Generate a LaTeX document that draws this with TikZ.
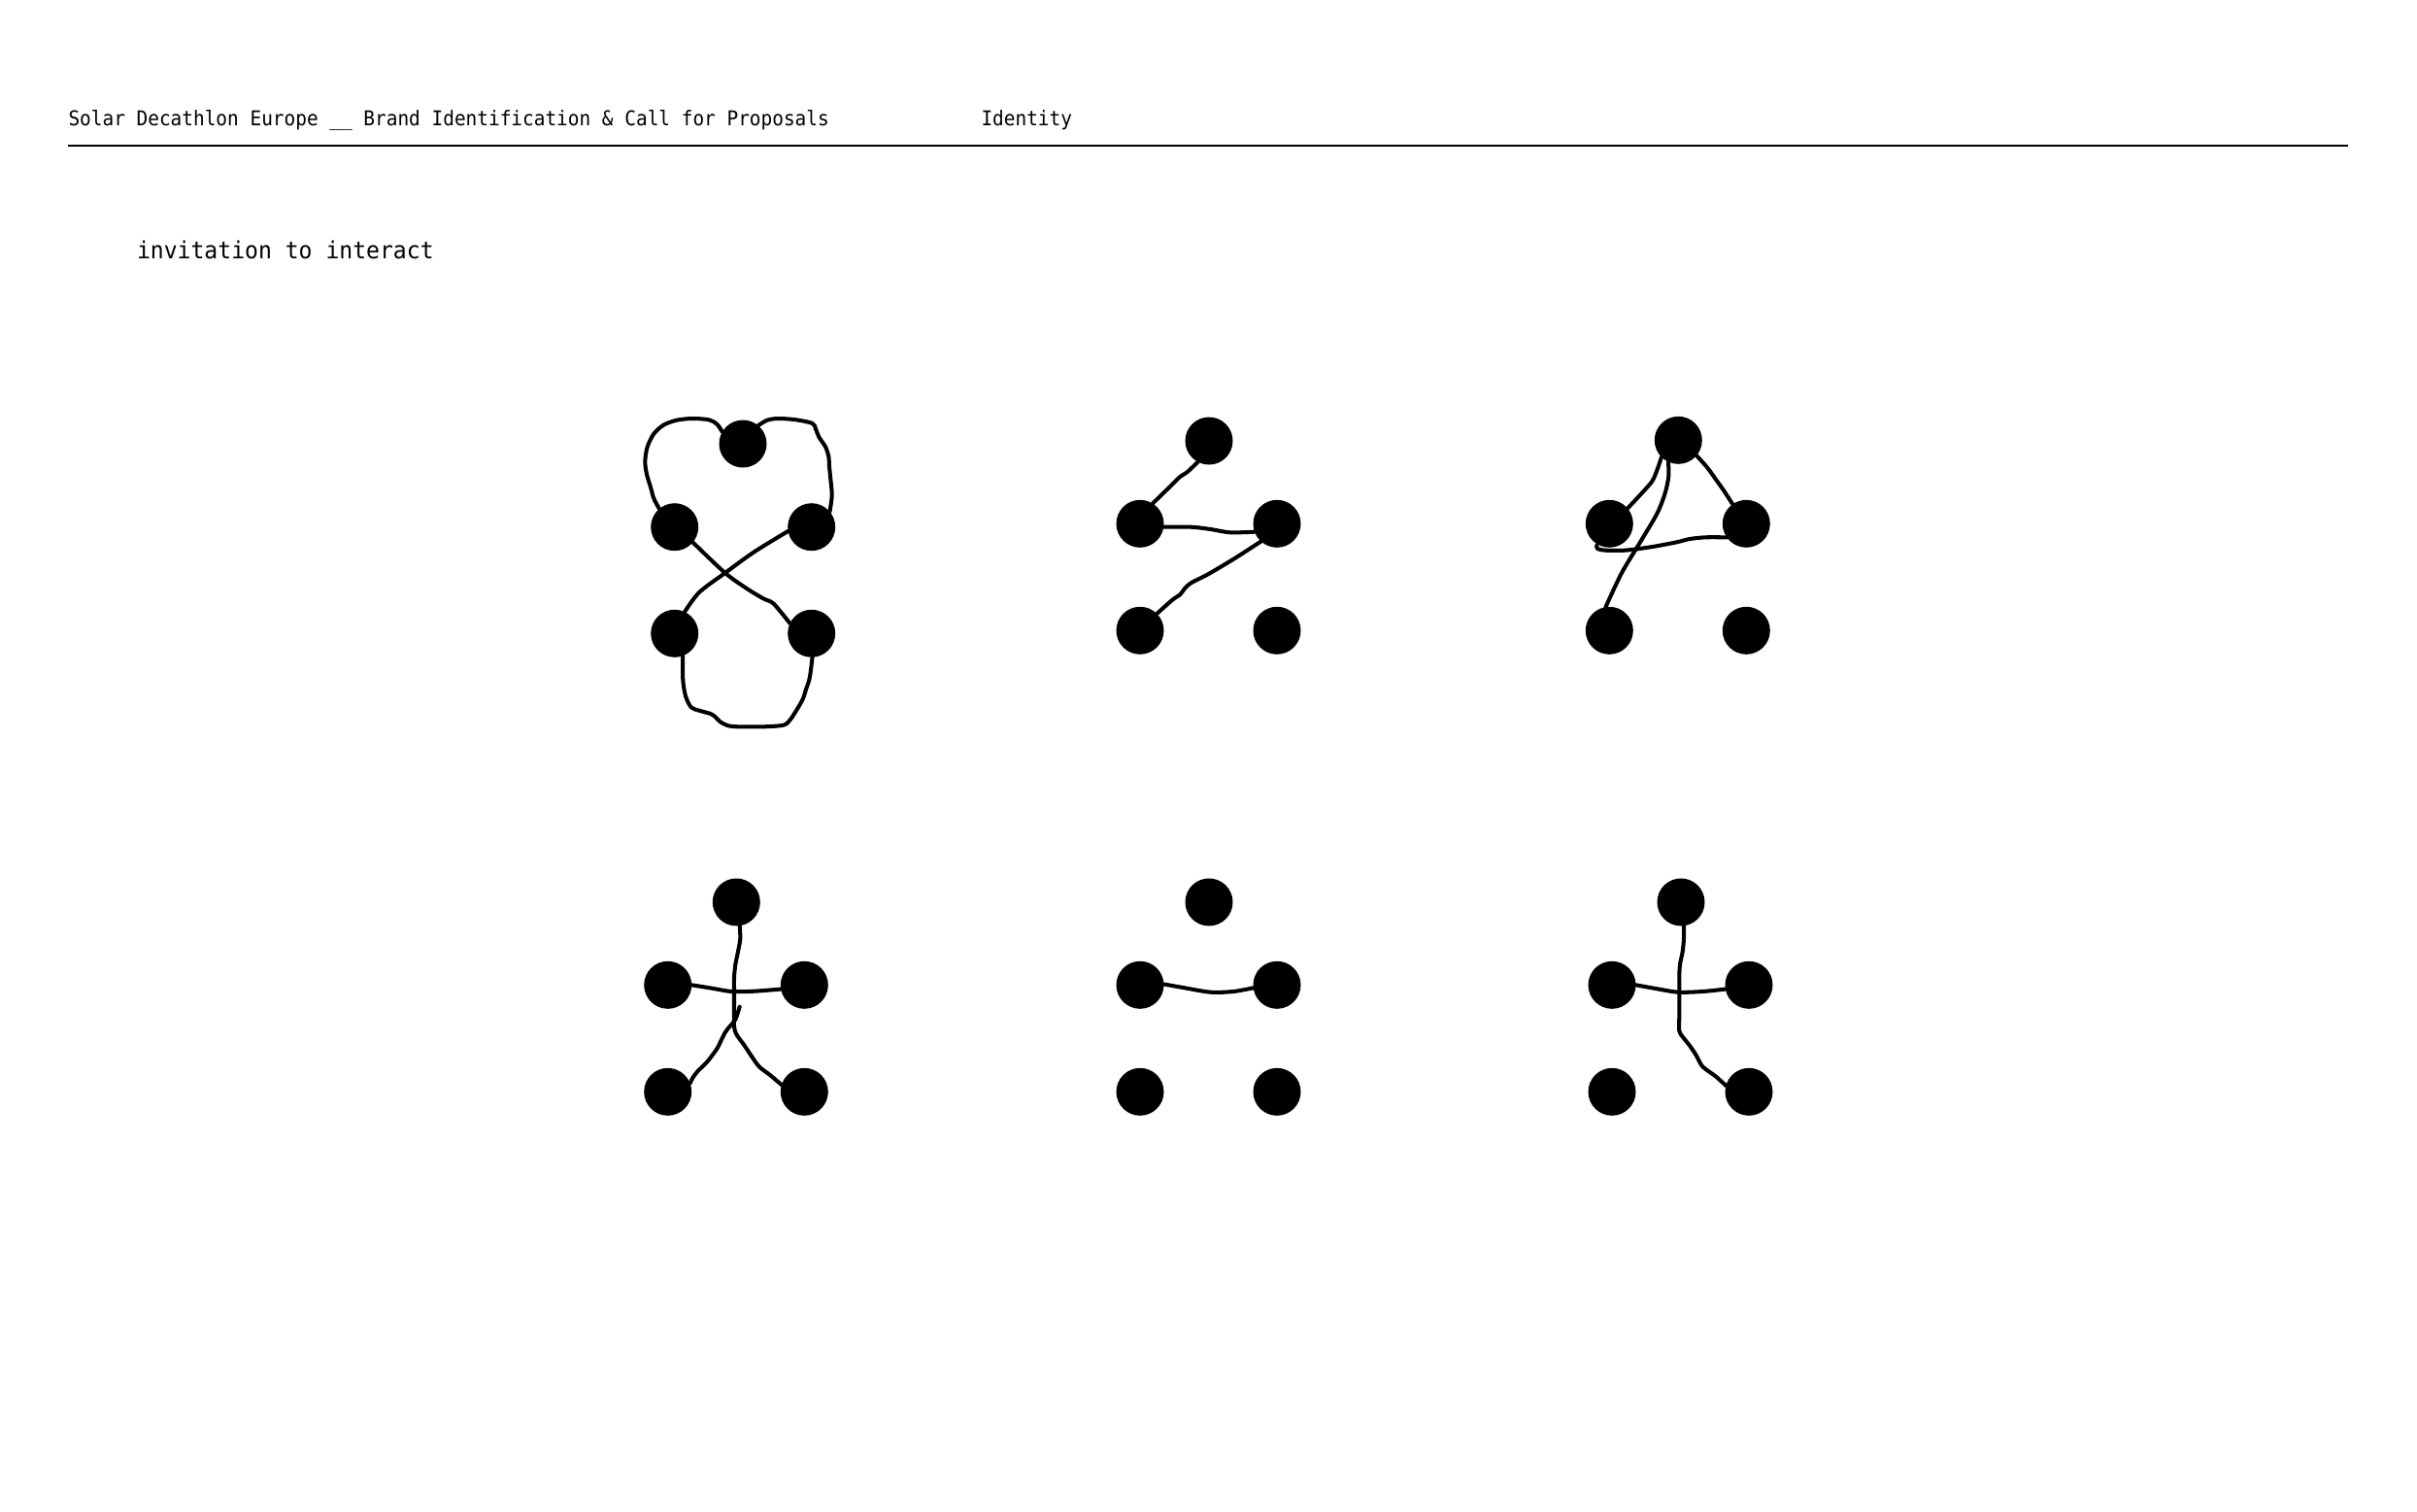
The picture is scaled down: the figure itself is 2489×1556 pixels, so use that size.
\documentclass[tikz,border=0pt]{standalone}
\usepackage{fontspec}
\newfontfamily\monofont{DejaVu Sans Mono}
\usetikzlibrary{backgrounds}
\pgfdeclarelayer{paper}
\pgfsetlayers{paper,background,main}
\tikzset{
  dot/.style={circle,fill=black,draw=none,minimum size=0.98cm,inner sep=0pt,outer sep=0pt},
  wire/.style={line width=2.3pt,line cap=round,line join=round},
  hdr/.style={anchor=base west,inner sep=0pt,outer sep=0pt,font=\monofont\fontsize{11.95pt}{14pt}\selectfont},
  ttl/.style={anchor=base west,inner sep=0pt,outer sep=0pt,font=\monofont\fontsize{13.9pt}{16pt}\selectfont}
}
\begin{document}
\begin{tikzpicture}[x=0.02cm,y=-0.02cm]
\begin{pgfonlayer}{paper}
\fill[white] (0,0) rectangle (2489,1556);
\end{pgfonlayer}
\useasboundingbox (0,0) rectangle (2489,1556);
% header
\node[hdr] (title) at (70.5,129.3) {\scalebox{0.925}[1]{Solar Decathlon Europe \_\_ Brand Identification \& Call for Proposals}};
\node[hdr] (ident) at (1010.5,129.3) {\scalebox{0.925}[1]{Identity}};
\coordinate (ruleL) at (70,150);
\coordinate (ruleR) at (2418,150);
\draw[line width=1.15pt] (ruleL) -- (ruleR);
\node[ttl] (invite) at (141,266.7) {\scalebox{0.945}[1]{invitation to interact}};
% dots
\foreach \g/\tx/\ty/\lx/\rx/\my/\by in {
  1/765/457/694.7/835.7/542.7/652.3,
  2/1245/454/1174/1315/539.3/649.3,
  3/1728.3/453.3/1657.3/1798.3/539.3/649.3,
  4/758.3/929/687.7/828.3/1014.3/1124.3,
  5/1245/929/1174/1315/1014.3/1124.3,
  6/1731/929/1660/1801/1014.3/1124.3}{
  \node[dot] (g\g t) at (\tx,\ty) {};
  \node[dot] (g\g ml) at (\lx,\my) {};
  \node[dot] (g\g mr) at (\rx,\my) {};
  \node[dot] (g\g bl) at (\lx,\by) {};
  \node[dot] (g\g br) at (\rx,\by) {};
}
\begin{scope}[on background layer]
% group 1
\draw[wire] plot[smooth,tension=0.5] coordinates {(g1ml.130) (673.3,513.3) (670,501.7) (666,488.3) (664.3,475) (666.7,460) (673.3,446.7) (683.3,437.7) (696.7,432.7) (713.3,431) (730,432.3) (738.3,436.7) (g1t.150)};
\draw[wire] plot[smooth,tension=0.5] coordinates {(g1t.50) (790,432.7) (801.7,431) (820,432.3) (836.7,436) (840,441.7) (843.3,450) (850,460) (853.3,470) (854,480) (855.3,493.3) (856.7,510) (g1mr.40)};
\draw[wire] plot[smooth,tension=0.5] coordinates {(g1ml.-40) (746.7,590) (770,606.7) (786.7,616.7) (796.7,621.7) (g1br.155)};
\draw[wire] plot[smooth,tension=0.5] coordinates {(g1mr.190) (776.7,568.3) (746.7,590) (720,610) (g1bl.65)};
\draw[wire] plot[smooth,tension=0.5] coordinates {(g1bl.-70) (703.3,700) (706,716.7) (711.7,728.3) (720,731.7) (731.7,735) (736.7,738.3) (741.7,743.3) (750,747.3) (760,748.3) (786.7,748.3) (806.7,746.7) (813.3,741.7) (820,731.7) (826.7,720) (830,710) (833.3,700) (835,690) (g1br.-88)};
% group 2
\draw[wire] plot[smooth,tension=0.5] coordinates {(g2t.-118) (1223.3,485.5) (1214.5,491.5) (1207,499) (g2ml.58)};
\draw[wire] plot[smooth,tension=0.5] coordinates {(g2ml.-8) (1226.7,542.7) (1246.7,545) (1266.7,548.3) (g2mr.200)};
\draw[wire] plot[smooth,tension=0.5] coordinates {(g2mr.228) (1276.7,571.7) (1263.3,580) (1243.3,591.7) (1227,600) (1220,606) (1215.5,612) (1207,618) (g2bl.45)};
% group 3
\coordinate (g3hook) at (1644.3,561.7);
\draw[wire] plot[smooth,tension=0.5] coordinates {(g3t.225) (1706.7,483.3) (1701.7,495) (1693.3,505) (g3ml.40)};
\draw[wire] plot[smooth,tension=0.5] coordinates {(g3t.245) (1718.3,490) (1715,506.7) (1706.7,528.3) (1690,556.7) (1670,590) (g3bl.99)};
\draw[wire] plot[smooth,tension=0.5] coordinates {(g3t.-40) (1758.3,481.7) (1766.7,493.3) (1775,505) (g3mr.125)};
\draw[wire] plot[smooth,tension=0.5] coordinates {(g3mr.215) (1756.7,553.3) (1740,555) (1726.7,558.3) (1700,563.3) (1673.3,566.7) (1653.3,566.7) (1645,565) (g3hook)};
% group 4
\coordinate (g4tick) at (761.7,1036.7);
\draw[wire] plot[smooth,tension=0.5] coordinates {(g4t.-82) (762.3,966.7) (760,980) (757.3,993.3) (756,1006.7) (756,1020) (756,1040) (756,1056.7) (758.3,1065) (766.7,1076.7) (773.3,1086.7) (781.7,1098.3) (793.3,1107.3) (g4br.163)};
\draw[wire] plot[smooth,tension=0.5] coordinates {(g4tick) (757.3,1050) (751.7,1056.7) (746.7,1063.3) (741.7,1073.3) (738.3,1080) (728.3,1093.3) (718.3,1103.3) (713.3,1110) (g4bl.21)};
\draw[wire] plot[smooth,tension=0.5] coordinates {(g4ml.0) (733.3,1017.7) (753.3,1021) (776.7,1020.7) (g4mr.190)};
% group 5
\draw[wire] plot[smooth,tension=0.5] coordinates {(g5ml.2) (1220,1017.3) (1246.7,1021.7) (1270,1021) (g5mr.187)};
% group 6
\draw[wire] plot[smooth,tension=0.5] coordinates {(g6t.-83) (1734,966.7) (1732.7,980) (1730,993.3) (1729.3,1006.7) (1729.3,1020) (1729.3,1046.7) (1729.3,1061.7) (1733.3,1068.3) (1740,1076.7) (1746.7,1086.7) (1753.3,1098.3) (1766.7,1108.3) (g6br.165)};
\draw[wire] plot[smooth,tension=0.5] coordinates {(g6ml.0) (1706.7,1018.3) (1728.3,1021.7) (1753.3,1021) (g6mr.190)};
\end{scope}
\end{tikzpicture}
\end{document}
